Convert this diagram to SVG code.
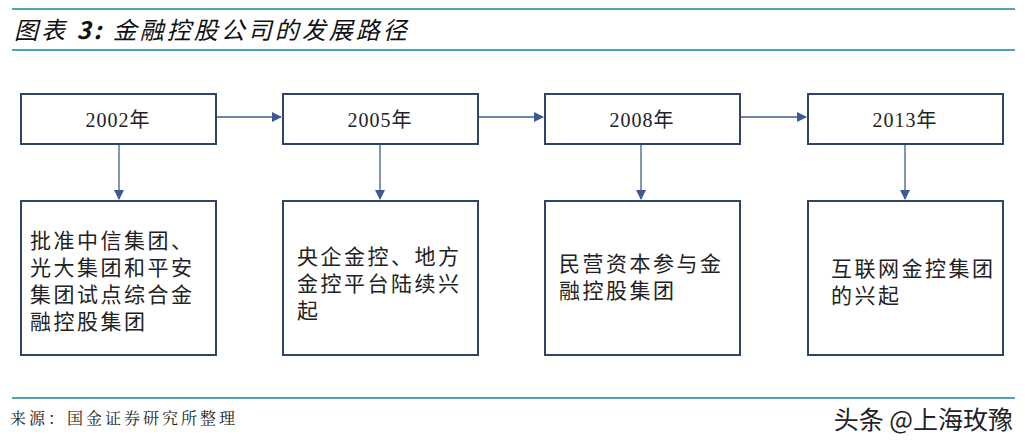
<svg xmlns="http://www.w3.org/2000/svg" width="1025" height="445" viewBox="0 0 1025 445">
<style>
.rule{stroke:#4ea5b6;stroke-width:2}
.box{fill:#fff;stroke:#2c4569;stroke-width:2}
.yr{font-family:"Liberation Serif","Noto Sans CJK SC",serif;font-size:20px;fill:#222;text-anchor:middle;letter-spacing:1px}
.tx{font-family:"Liberation Serif","Noto Sans CJK SC",serif;font-size:21px;letter-spacing:2.5px;fill:#222}
.con{stroke:#3f5e8c;stroke-width:1.3;fill:none}
</style>
<defs><marker id="ah" markerWidth="10" markerHeight="10" refX="9" refY="5" orient="auto" markerUnits="userSpaceOnUse"><path d="M0,0L10,5L0,10z" fill="#3a5a95"/></marker></defs>
<rect width="1025" height="445" fill="#fff"/>
<line class="rule" x1="12" y1="9" x2="1015" y2="9"/>
<line class="rule" x1="12" y1="50" x2="1015" y2="50"/>
<text x="14" y="39" font-family="'Noto Sans CJK SC',sans-serif" font-size="24" font-style="italic" letter-spacing="3" fill="#111">图表 <tspan font-weight="bold">3:</tspan> 金融控股公司的发展路径</text>
<g id="connectors">
<line class="con" x1="216" y1="117" x2="281" y2="117" marker-end="url(#ah)"/>
<line class="con" x1="478" y1="117" x2="543" y2="117" marker-end="url(#ah)"/>
<line class="con" x1="740" y1="117" x2="806" y2="117" marker-end="url(#ah)"/>
<line class="con" x1="119" y1="144" x2="119" y2="199" marker-end="url(#ah)"/>
<line class="con" x1="380" y1="144" x2="380" y2="199" marker-end="url(#ah)"/>
<line class="con" x1="641" y1="144" x2="641" y2="199" marker-end="url(#ah)"/>
<line class="con" x1="905" y1="144" x2="905" y2="199" marker-end="url(#ah)"/>
</g>
<g id="y2002"><rect class="box" x="21" y="94" width="195" height="50"/><text class="yr" x="118" y="127">2002年</text></g>
<g id="y2005"><rect class="box" x="283" y="94" width="195" height="50"/><text class="yr" x="380" y="127">2005年</text></g>
<g id="y2008"><rect class="box" x="545" y="94" width="195" height="50"/><text class="yr" x="642" y="127">2008年</text></g>
<g id="y2013"><rect class="box" x="808" y="94" width="195" height="50"/><text class="yr" x="905" y="127">2013年</text></g>
<g id="c2002"><rect class="box" x="21" y="201" width="195" height="154"/><text class="tx" x="30"><tspan x="30" y="248">批准中信集团、</tspan><tspan x="30" y="275">光大集团和平安</tspan><tspan x="30" y="302">集团试点综合金</tspan><tspan x="30" y="329">融控股集团</tspan></text></g>
<g id="c2005"><rect class="box" x="283" y="201" width="195" height="154"/><text class="tx"><tspan x="297" y="264">央企金控、地方</tspan><tspan x="297" y="291">金控平台陆续兴</tspan><tspan x="297" y="318">起</tspan></text></g>
<g id="c2008"><rect class="box" x="545" y="201" width="195" height="154"/><text class="tx"><tspan x="559" y="271">民营资本参与金</tspan><tspan x="559" y="298">融控股集团</tspan></text></g>
<g id="c2013"><rect class="box" x="808" y="201" width="195" height="154"/><text class="tx"><tspan x="831" y="276">互联网金控集团</tspan><tspan x="831" y="303">的兴起</tspan></text></g>
<line class="rule" x1="12" y1="398" x2="1015" y2="398"/>
<text x="10" y="424" font-family="'Noto Serif CJK SC','Noto Sans CJK SC',serif" font-size="16" letter-spacing="3" fill="#222">来源：国金证券研究所整理</text>
<text x="1013" y="429" text-anchor="end" font-family="'Noto Sans CJK SC',sans-serif" font-size="25" fill="#222">头条 @上海玫豫</text>
</svg>
